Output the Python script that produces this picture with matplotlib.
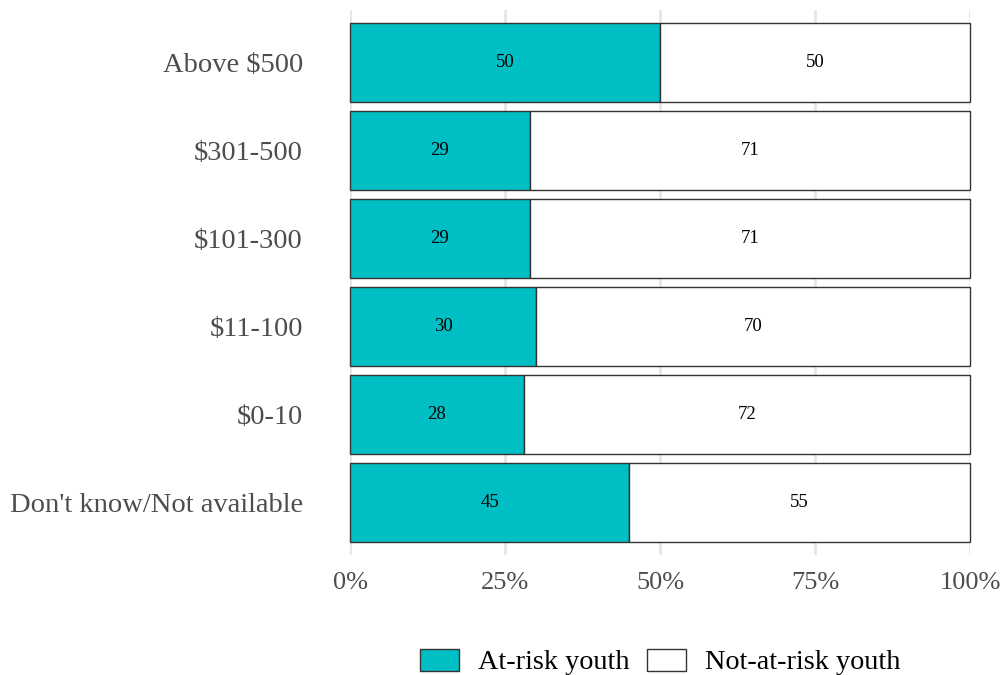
import matplotlib.pyplot as plt
import numpy as np
from matplotlib.patches import Patch

plt.rcParams["font.family"] = ["Liberation Serif", "DejaVu Serif"]

# Spending categories, bottom to top
categories = [
    "Don't know/Not available",
    "$0-10",
    "$11-100",
    "$101-300",
    "$301-500",
    "Above $500",
]
at_risk = [45, 28, 30, 29, 29, 50]
not_at_risk = [55, 72, 70, 71, 71, 50]
x_ticks = [0, 25, 50, 75, 100]
x_tick_labels = ["0%", "25%", "50%", "75%", "100%"]

TEAL = "#00BFC4"
EDGE = "#333333"
GRID = "#E6E6E6"
AXIS_TEXT = "#4D4D4D"

fig = plt.figure(figsize=(10.05, 6.75), dpi=100)
ax = fig.add_axes([350 / 1005, 1 - 555 / 675, 620 / 1005, 545 / 675])

y = np.arange(len(categories))
risk = np.array(at_risk)
not_risk = np.array(not_at_risk)

ax.barh(y, risk, height=0.9, color=TEAL, edgecolor=EDGE, linewidth=1.0,
        zorder=3, clip_on=False)
ax.barh(y, not_risk, left=risk, height=0.9, color="white", edgecolor=EDGE,
        linewidth=1.0, zorder=3, clip_on=False)

for yi, a, n in zip(y, risk, not_risk):
    ax.text(a / 2, yi, f"{a}", ha="center", va="center", fontsize=13.5,
            color="black", zorder=4)
    ax.text(a + n / 2, yi, f"{n}", ha="center", va="center", fontsize=13.5,
            color="black", zorder=4)

ax.set_xlim(0, 100)
ax.set_ylim(-0.6, len(categories) - 0.4)
ax.set_xticks(x_ticks)
ax.set_xticklabels(x_tick_labels)
ax.set_yticks(y)
ax.set_yticklabels(categories)
ax.tick_params(axis="both", length=0, labelcolor=AXIS_TEXT)
ax.tick_params(axis="x", pad=12, labelsize=19)
ax.tick_params(axis="y", pad=34, labelsize=20.5)

ax.grid(axis="x", color=GRID, linewidth=2.0, zorder=0)
ax.grid(axis="y", visible=False)
for spine in ax.spines.values():
    spine.set_visible(False)

handles = [
    Patch(facecolor=TEAL, edgecolor=EDGE, linewidth=1.0, label="At-risk youth"),
    Patch(facecolor="white", edgecolor=EDGE, linewidth=1.0,
          label="Not-at-risk youth"),
]
fig.legend(
    handles=handles,
    loc="center",
    bbox_to_anchor=(0.657, 1 - 662 / 675),
    ncol=2,
    frameon=False,
    fontsize=20.3,
    handlelength=1.4,
    handleheight=0.82,
    handletextpad=0.68,
    columnspacing=0.6,
    labelcolor="black",
)

fig.savefig("out.png", dpi=100, facecolor="white")
